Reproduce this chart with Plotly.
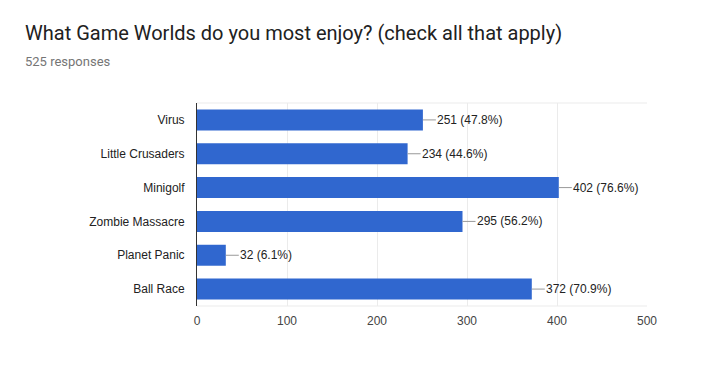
import plotly.graph_objects as go

categories = ["Virus", "Little Crusaders", "Minigolf", "Zombie Massacre", "Planet Panic", "Ball Race"]
counts = [251, 234, 402, 295, 32, 372]
percents = ["47.8%", "44.6%", "76.6%", "56.2%", "6.1%", "70.9%"]
x_ticks = [0, 100, 200, 300, 400, 500]

title = "What Game Worlds do you most enjoy? (check all that apply)"
subtitle = "525 responses"

W, H = 714, 386
L, R, T, B = 197, 67, 103, 80
PW, PH = W - L - R, H - T - B

def px(x):
    return (x - L) / PW

def py(y):
    return (H - B - y) / PH

fig = go.Figure()
fig.add_trace(go.Bar(
    x=counts, y=categories, orientation="h",
    marker=dict(color="#3067cf", line=dict(width=0)),
    hoverinfo="skip",
))

for c, v, p in zip(categories, counts, percents):
    fig.add_annotation(
        x=v, y=c, xref="x", yref="y",
        text=f"{v} ({p})", showarrow=True, arrowhead=0, arrowwidth=1,
        arrowcolor="#999999", ax=13, ay=0, xanchor="left", yanchor="middle",
        font=dict(family="Arial, Liberation Sans", size=12, color="#222222"),
        borderpad=0,
    )

fig.add_annotation(x=px(23), y=py(33), xref="paper", yref="paper", xanchor="left", yanchor="middle",
                   text=title, showarrow=False,
                   font=dict(family="Roboto", size=20, color="#212121"))
fig.add_annotation(x=px(23), y=py(62), xref="paper", yref="paper", xanchor="left", yanchor="middle",
                   text=subtitle, showarrow=False,
                   font=dict(family="Roboto", size=13, color="#757575"))

fig.update_layout(
    width=W, height=H,
    margin=dict(l=L, r=R, t=T, b=B, autoexpand=False),
    paper_bgcolor="white", plot_bgcolor="white",
    showlegend=False, bargap=0.38,
    xaxis=dict(range=[0, 500], tickvals=x_ticks, showgrid=True, gridcolor="#ebebeb",
               zeroline=False, showline=False, ticks="", automargin=False,
               tickfont=dict(family="Arial, Liberation Sans", size=12, color="#444444"),
               ticklabelstandoff=6, fixedrange=True),
    yaxis=dict(autorange="reversed", showgrid=False, zeroline=False, automargin=False,
               showline=True, linecolor="#333333", linewidth=1, mirror=False,
               ticks="", ticklabelstandoff=9,
               tickfont=dict(family="Arial, Liberation Sans", size=12, color="#222222")),
)
fig.add_shape(type="line", xref="paper", yref="paper", x0=0, x1=1, y0=1, y1=1,
              line=dict(color="#ebebeb", width=1), layer="below")
fig.add_shape(type="line", xref="paper", yref="paper", x0=0, x1=1, y0=0, y1=0,
              line=dict(color="#ebebeb", width=1), layer="below")
fig.write_html("out.html", config={"displayModeBar": False},
               post_script="document.body.style.margin='0';")
